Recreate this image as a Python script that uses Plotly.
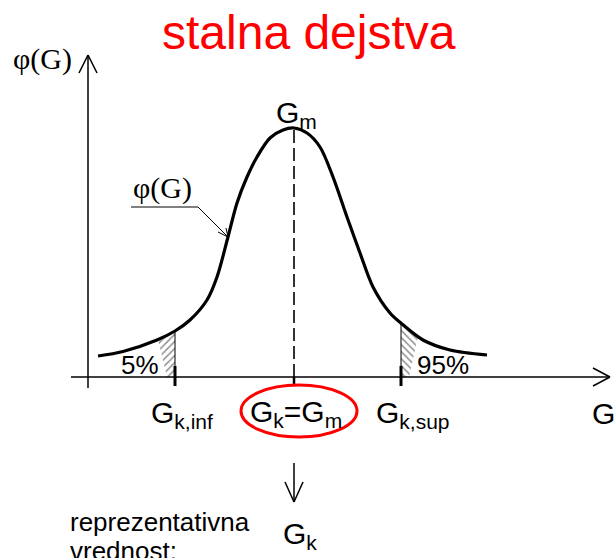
import numpy as np
import plotly.graph_objects as go

# ---------------------------------------------------------------- data
# φ(G) sampled along the G axis (G measured from the φ axis, φ from the G axis)
G_curve = [10, 35, 69, 87, 102, 119, 129, 140, 149, 159, 169, 182, 195, 206,
           219, 232, 245, 259, 272, 285, 302, 314, 335, 362, 399]
phi_curve = [21, 25.5, 37, 46, 57, 77, 100, 140, 174, 200, 220, 239, 247, 249,
             244, 230, 200, 160, 124, 90, 64, 53, 37, 27, 22]

G_k_inf = 87      # 5 % fractile
G_m = 206         # mean value
G_k_sup = 313     # 95 % fractile
tail_labels = ["5%", "95%"]

# ---------------------------------------------------------------- styles
SANS = "Arial, Liberation Sans, sans-serif"
SERIF = "Times New Roman, Liberation Serif, serif"
BLACK = "#000000"
RED = "#ff0000"

G_axis_end = 522
phi_axis_end = 322
hatch_width = 17        # width of the hatched strip next to each fractile


def phi_at(g):
    return float(np.interp(g, G_curve, phi_curve))


fig = go.Figure()

# hatched tail areas
left_x = [G_k_inf - hatch_width] + [g for g in G_curve if G_k_inf - hatch_width < g < G_k_inf] + [G_k_inf, G_k_inf, G_k_inf - 8]
left_y = [phi_at(left_x[0])] + [phi_at(g) for g in left_x[1:-3]] + [phi_at(G_k_inf), 0, 0]
right_x = [G_k_sup + hatch_width, G_k_sup + 8, G_k_sup, G_k_sup] + [g for g in G_curve if G_k_sup < g < G_k_sup + hatch_width][::-1]
right_y = [phi_at(G_k_sup + hatch_width), 0, 0, phi_at(G_k_sup)] + [phi_at(g) for g in right_x[4:]]

for xs, ys, shape in [(left_x, left_y, "/"), (right_x, right_y, "\\")]:
    fig.add_trace(go.Scatter(
        x=xs + [xs[0]], y=ys + [ys[0]], mode="none", fill="toself",
        fillcolor="rgba(0,0,0,0)",
        fillpattern=dict(shape=shape, fgcolor="#222222", bgcolor="rgba(0,0,0,0)",
                         size=5, solidity=0.3),
        hoverinfo="skip"))

# density curve
fig.add_trace(go.Scatter(
    x=G_curve, y=phi_curve, mode="lines",
    line=dict(color=BLACK, width=3.2, shape="spline", smoothing=0.9),
    hoverinfo="skip"))

shapes = []


def seg(x0, y0, x1, y1, width=1.5, color=BLACK, dash="solid"):
    shapes.append(dict(type="line", xref="x", yref="y", x0=x0, y0=y0, x1=x1, y1=y1,
                       line=dict(color=color, width=width, dash=dash)))


# coordinate axes with open arrow heads
seg(-17, 0, G_axis_end, 0)
seg(G_axis_end - 17, 9, G_axis_end, 0)
seg(G_axis_end - 17, -9, G_axis_end, 0)
seg(0, -11, 0, phi_axis_end)
seg(-9, phi_axis_end - 18, 0, phi_axis_end)
seg(9, phi_axis_end - 18, 0, phi_axis_end)

# fractile markers
for g in (G_k_inf, G_k_sup):
    seg(g, 0, g, phi_at(g), width=1)
    seg(g, -9, g, 11, width=3)
seg(G_m, -9, G_m, 0, width=2.5)
seg(G_m, 0, G_m, max(phi_curve), width=1.6, dash="13px,5px")

# arrow down to the representative value
seg(G_m, -86, G_m, -125)
seg(G_m - 9, -105, G_m, -125)
seg(G_m + 9, -105, G_m, -125)

# φ(G) pointer
seg(43, 170, 110, 170, width=2, color="#808080")
seg(110, 170, 140, 140, width=1)
seg(130, 145, 140, 140, width=1)
seg(138, 149, 140, 140, width=1)

# red ellipse around Gk = Gm
shapes.append(dict(type="circle", xref="x", yref="y", x0=G_m - 53, x1=G_m + 63,
                   y0=-8, y1=-60, line=dict(color=RED, width=3)))

annotations = []


def label(text, x, y, size, family=SANS, color=BLACK, xanchor="center"):
    annotations.append(dict(text=text, x=x, y=y, xref="x", yref="y", showarrow=False,
                            xanchor=xanchor, yanchor="middle",
                            font=dict(family=family, size=size, color=color)))


label("stalna dejstva", 221, 345, 48, color=RED)
label("φ(G)", -46, 318, 30, family=SERIF)
label("φ(G)", 74, 189, 30, family=SERIF)
label("G<sub>m</sub>", 208, 263, 30)
label(tail_labels[0], 52, 12, 26)
label(tail_labels[1], 355, 12, 26)
label("G<sub>k,inf</sub>", 94, -37, 30)
label("G<sub>k</sub>=G<sub>m</sub>", 208, -36, 30)
label("G<sub>k,sup</sub>", 325, -37, 30)
label("G", 502, -36, 30, xanchor="left")
label("G<sub>k</sub>", 212, -158, 30)
label("reprezentativna", -20, -145, 26, xanchor="left")
label("vrednost:", -20, -174, 26, xanchor="left")

fig.update_layout(
    width=614, height=558,
    margin=dict(l=0, r=0, t=0, b=0),
    paper_bgcolor="white", plot_bgcolor="white",
    showlegend=False,
    xaxis=dict(range=[-88, 526], visible=False, fixedrange=True),
    yaxis=dict(range=[-181, 377], visible=False, fixedrange=True),
    shapes=shapes, annotations=annotations,
)

fig.write_html("out.html")
